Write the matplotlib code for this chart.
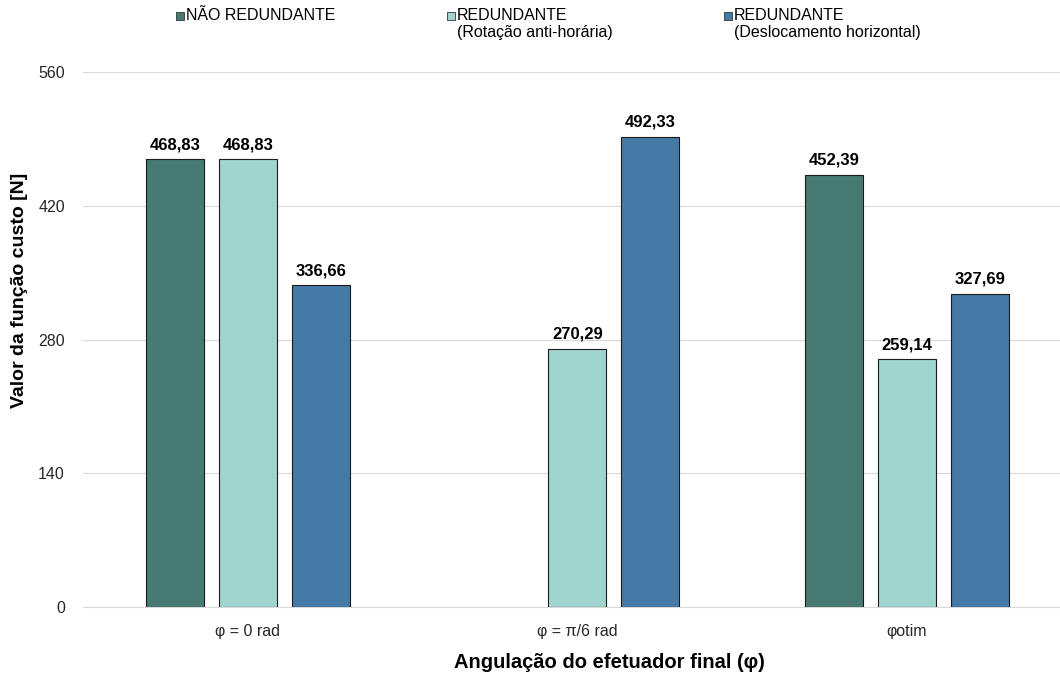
import matplotlib
matplotlib.use("Agg")
import matplotlib.pyplot as plt
import matplotlib.patches as mpatches
import numpy as np

plt.rcParams["font.family"] = ["Liberation Sans", "DejaVu Sans"]

CATEGORIES = ["φ = 0 rad", "φ = π/6 rad", "φotim"]
SERIES_LABELS = [
    "NÃO REDUNDANTE",
    "REDUNDANTE\n(Rotação anti-horária)",
    "REDUNDANTE\n(Deslocamento horizontal)",
]
NAO_REDUNDANTE = [468.83, np.nan, 452.39]
RED_ROTACAO = [468.83, 270.29, 259.14]
RED_DESLOC = [336.66, 492.33, 327.69]
COLORS = ["#487A74", "#A0D5CF", "#457AA6"]
Y_TICKS = [0, 140, 280, 420, 560]

TEXT = "#000000"
TICK_TEXT = "#262626"
GRID = "#D9D9D9"

W, H = 1060, 675
fig = plt.figure(figsize=(W / 100, H / 100), dpi=100)
ax = fig.add_axes([83 / W, 1 - 607 / H, 1 - 83 / W, (607 - 72) / H])

x = np.arange(len(CATEGORIES))
width = 0.176
offset = 0.2216
series = [NAO_REDUNDANTE, RED_ROTACAO, RED_DESLOC]

for i, (vals, color) in enumerate(zip(series, COLORS)):
    pos = x + (i - 1) * offset
    ax.bar(pos, vals, width=width, color=color, edgecolor="#1a1a1a",
           linewidth=0.8, zorder=3)
    for p, v in zip(pos, vals):
        if np.isnan(v):
            continue
        ax.annotate(f"{v:.2f}".replace(".", ","), (p, v), xytext=(0, 5),
                    textcoords="offset points", ha="center", va="bottom",
                    fontsize=12, fontweight="bold", color=TEXT)

ax.set_xlim(-0.5, 2.464)
ax.set_ylim(0, 560)
ax.set_yticks(Y_TICKS)
ax.set_xticks(x)
ax.set_xticklabels(CATEGORIES)
ax.tick_params(axis="both", length=0, labelsize=11.5, colors=TICK_TEXT)
ax.tick_params(axis="y", pad=13)
ax.tick_params(axis="x", pad=12)
ax.grid(axis="y", color=GRID, linewidth=0.8, zorder=0)
ax.set_axisbelow(True)
for s in ["top", "right", "left"]:
    ax.spines[s].set_visible(False)
ax.spines["bottom"].set_color(GRID)
ax.spines["bottom"].set_linewidth(0.8)

ax.set_ylabel("Valor da função custo [N]", fontsize=14, fontweight="bold",
              color=TEXT, va="center")
ax.yaxis.set_label_coords(-0.0645, 0.5925)
ax.set_xlabel("Angulação do efetuador final (φ)", fontsize=14.5,
              fontweight="bold", color=TEXT, va="center")
ax.xaxis.set_label_coords(0.539, -0.103)

# legend drawn by hand so the swatch sits on the first line of each label
legend_x = [176, 447, 724]
for lx, label, color in zip(legend_x, SERIES_LABELS, COLORS):
    fig.patches.append(mpatches.Rectangle(
        (lx / W, 1 - 20 / H), 8 / W, 8 / H,
        transform=fig.transFigure, facecolor=color, edgecolor="#333333",
        linewidth=0.6))
    fig.text((lx + 10) / W, 1 - 8 / H, label, ha="left", va="top",
             fontsize=11.5, color=TEXT, linespacing=1.15)

fig.savefig("out.png", dpi=100)
